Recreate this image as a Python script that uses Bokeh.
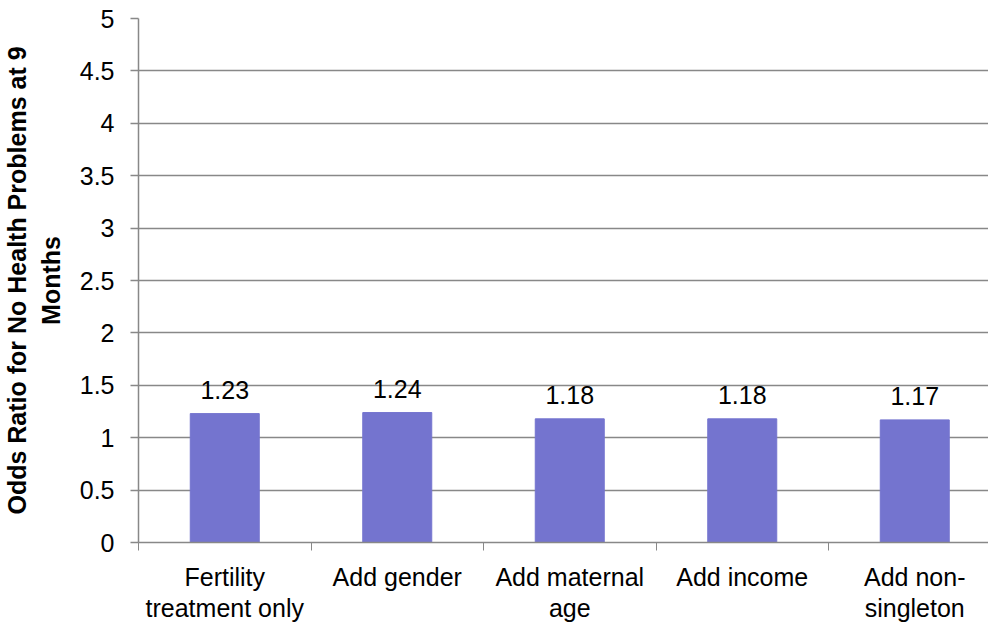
from bokeh.plotting import figure
from bokeh.models import Range1d, FixedTicker, NumeralTickFormatter, ColumnDataSource, LinearAxis
from bokeh.core.properties import value
from bokeh.embed import file_html
from bokeh.resources import INLINE

categories = ["Fertility\ntreatment only", "Add gender", "Add maternal\nage", "Add income", "Add non-\nsingleton"]
odds_ratios = [1.23, 1.24, 1.18, 1.18, 1.17]
value_labels = ["1.23", "1.24", "1.18", "1.18", "1.17"]
y_ticks = [0, 0.5, 1, 1.5, 2, 2.5, 3, 3.5, 4, 4.5, 5]
y_title = "Odds Ratio for No Health Problems at 9\nMonths"

FONT = "Liberation Sans"
FS = "25px"
GRID = "#888888"
BAR = "#7474CF"

xs = [i + 0.5 for i in range(len(categories))]
line1 = [c.split("\n")[0] for c in categories]
line2 = [c.split("\n")[1] if "\n" in c else "" for c in categories]
src = ColumnDataSource(dict(x=xs, top=odds_ratios, lab=value_labels))

p = figure(width=988, height=624, output_backend="svg", toolbar_location=None,
           x_range=Range1d(0, 850 / 172.5), y_range=Range1d(0, 5),
           min_border_left=138, min_border_right=0, min_border_top=18, min_border_bottom=80)
p.outline_line_color = None
p.background_fill_color = "white"
p.border_fill_color = "white"

p.vbar(x="x", top="top", width=0.4, source=src, fill_color=BAR, line_color=BAR)
p.text(x="x", y="top", text="lab", source=src, y_offset=-24,
       text_align="center", text_baseline="alphabetic",
       text_font=value(FONT), text_font_size=FS, text_color="black")

# x axis (first line of category labels, with boundary ticks)
xa = p.xaxis[0]
xa.ticker = FixedTicker(ticks=xs, minor_ticks=list(range(len(categories) + 1)))
xa.major_label_overrides = {x: c for x, c in zip(xs, line1)}
xa.major_tick_line_color = None
xa.major_tick_out = 0
xa.major_tick_in = 0
xa.minor_tick_out = 8
xa.minor_tick_in = 0
xa.minor_tick_line_color = GRID
xa.axis_line_color = GRID
xa.axis_line_width = 1.5
xa.major_label_standoff = 12
xa.major_label_text_font = FONT
xa.major_label_text_font_size = FS
xa.major_label_text_color = "black"

# second line of category labels
xa2 = LinearAxis(ticker=FixedTicker(ticks=xs, minor_ticks=[]))
xa2.major_label_overrides = {x: c for x, c in zip(xs, line2)}
xa2.axis_line_color = None
xa2.major_tick_line_color = None
xa2.minor_tick_line_color = None
xa2.major_tick_out = 0
xa2.major_tick_in = 0
xa2.major_label_standoff = 0
xa2.major_label_text_font = FONT
xa2.major_label_text_font_size = FS
xa2.major_label_text_color = "black"
p.add_layout(xa2, "below")

# y axis
ya = p.yaxis[0]
ya.ticker = FixedTicker(ticks=y_ticks, minor_ticks=[])
ya.formatter = NumeralTickFormatter(format="0.[0]")
ya.major_tick_out = 8
ya.major_tick_in = 0
ya.major_tick_line_color = GRID
ya.major_tick_line_width = 1.5
ya.minor_tick_line_color = None
ya.axis_line_color = GRID
ya.axis_line_width = 1.5
ya.major_label_standoff = 16
ya.major_label_text_font = FONT
ya.major_label_text_font_size = FS
ya.major_label_text_color = "black"
ya.axis_label = y_title
ya.axis_label_text_font = FONT
ya.axis_label_text_font_size = FS
ya.axis_label_text_font_style = "bold"
ya.axis_label_text_color = "black"
ya.axis_label_standoff = 12

p.xgrid.grid_line_color = None
p.ygrid.grid_line_color = GRID
p.ygrid.grid_line_width = 1.5

open("out.html", "w").write(file_html(p, INLINE))
